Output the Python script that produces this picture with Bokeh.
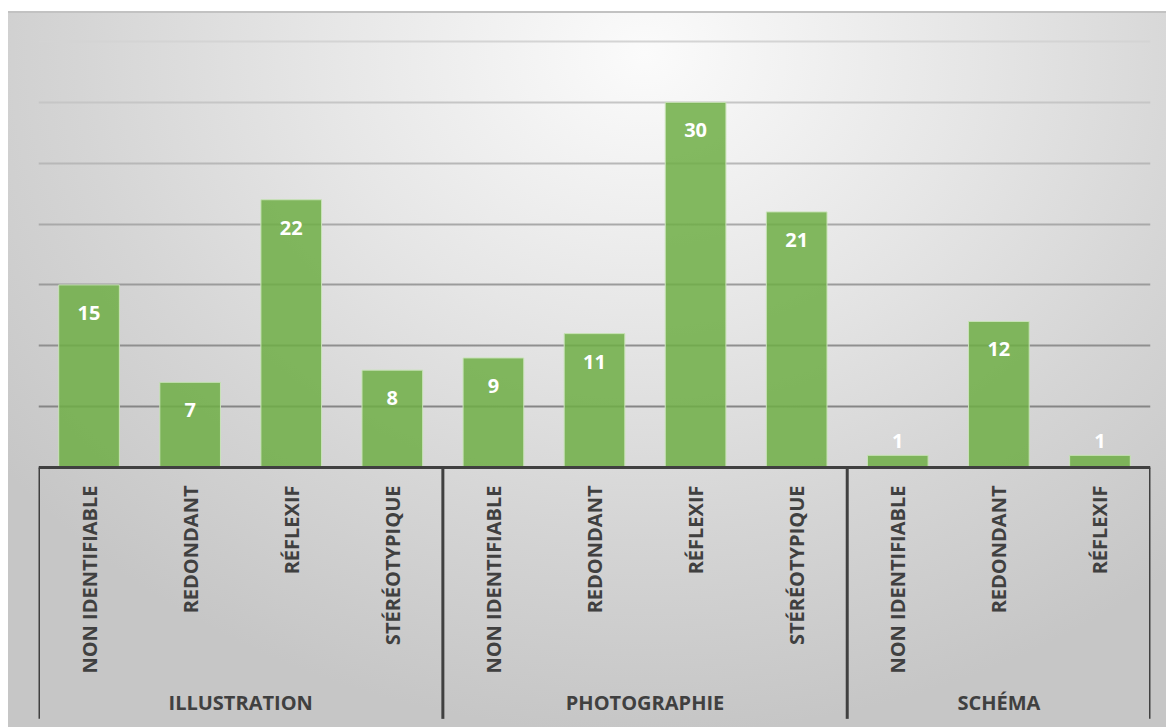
import math
from bokeh.plotting import figure
from bokeh.models import (FactorRange, Range1d, ColumnDataSource, CategoricalAxis,
                          Grid, FixedTicker)
from bokeh.core.properties import value
from bokeh.embed import file_html
from bokeh.resources import INLINE

# ---- data ----
groups = ["ILLUSTRATION", "PHOTOGRAPHIE", "SCHÉMA"]
group_categories = [
    ["NON IDENTIFIABLE", "REDONDANT", "RÉFLEXIF", "STÉRÉOTYPIQUE"],
    ["NON IDENTIFIABLE", "REDONDANT", "RÉFLEXIF", "STÉRÉOTYPIQUE"],
    ["NON IDENTIFIABLE", "REDONDANT", "RÉFLEXIF"],
]
values = [15, 7, 22, 8, 9, 11, 30, 21, 1, 12, 1]
grid_ticks = [5, 10, 15, 20, 25, 30, 35]

# ---- derived ----
factors = [(g, c) for g, cats in zip(groups, group_categories) for c in cats]
labels = [str(v) for v in values]
offsets = [28 if v >= 3 else -14 for v in values]

bounds = [0]
for cats in group_categories:
    bounds.append(bounds[-1] + len(cats))

# ---- layout constants ----
W, H = 1158, 716
Y_TOP = 37.465
Y_BOTTOM = -21.36
SEP_BOTTOM = -20.65

p = figure(width=W, height=H, output_backend="svg", toolbar_location=None,
           x_range=FactorRange(factors=factors, range_padding=0, group_padding=0,
                               factor_padding=0),
           y_range=Range1d(Y_BOTTOM, Y_TOP),
           x_axis_location=None, y_axis_location=None,
           min_border_left=30, min_border_right=16, min_border_top=0, min_border_bottom=0)
p.margin = (11, 0, 0, 8)
p.background_fill_alpha = 0
p.border_fill_alpha = 0
p.outline_line_color = None
p.grid.visible = False
p.styles = {
    "background": ("linear-gradient(#c2c2c2, #c2c2c2) top left / 100% 2px no-repeat, "
                   "radial-gradient(ellipse 70% 95% at 55% 6%, #fbfbfb 0%, #e6e6e6 40%, "
                   "#d5d5d5 70%, #c6c6c6 100%)"),
}

# gridlines (darker towards the bottom)
grid_colors = ["#858585", "#8f8f8f", "#9b9b9b", "#a9a9a9", "#b8b8b8", "#c6c6c6", "#d4d4d4"]
for t, c in zip(grid_ticks, grid_colors):
    g = Grid(dimension=1, ticker=FixedTicker(ticks=[t]), grid_line_color=c,
             grid_line_width=2)
    p.add_layout(g)

# bars
src = ColumnDataSource(data=dict(x=factors, top=values, label=labels, off=offsets))
p.vbar(x="x", top="top", width=0.6, source=src, fill_color="#6fae45", fill_alpha=0.85,
       line_color="#c9e3b8", line_width=1)

p.text(x="x", y="top", text="label", y_offset="off", source=src,
       text_align="center", text_baseline="middle", text_color="white",
       text_font=value("Open Sans"), text_font_style="bold", text_font_size="20px")

# x axis at y=0
ax = CategoricalAxis(fixed_location=0)
ax.axis_line_color = "#404040"
ax.axis_line_width = 3
ax.major_tick_line_color = None
ax.minor_tick_line_color = None
ax.separator_line_color = None
ax.major_label_orientation = math.pi / 2
ax.major_label_standoff = 12
ax.major_label_text_font = "Open Sans"
ax.major_label_text_font_style = "bold"
ax.major_label_text_font_size = "20px"
ax.major_label_text_color = "#404040"
ax.group_text_font = "Open Sans"
ax.group_text_font_style = "bold"
ax.group_text_font_size = "20px"
ax.group_text_color = "#404040"
p.add_layout(ax, "below")

# group separators
p.segment(x0=bounds, x1=bounds, y0=[0] * len(bounds), y1=[SEP_BOTTOM] * len(bounds),
          line_color="#404040", line_width=3)

open("out.html", "w").write(file_html(p, INLINE))
